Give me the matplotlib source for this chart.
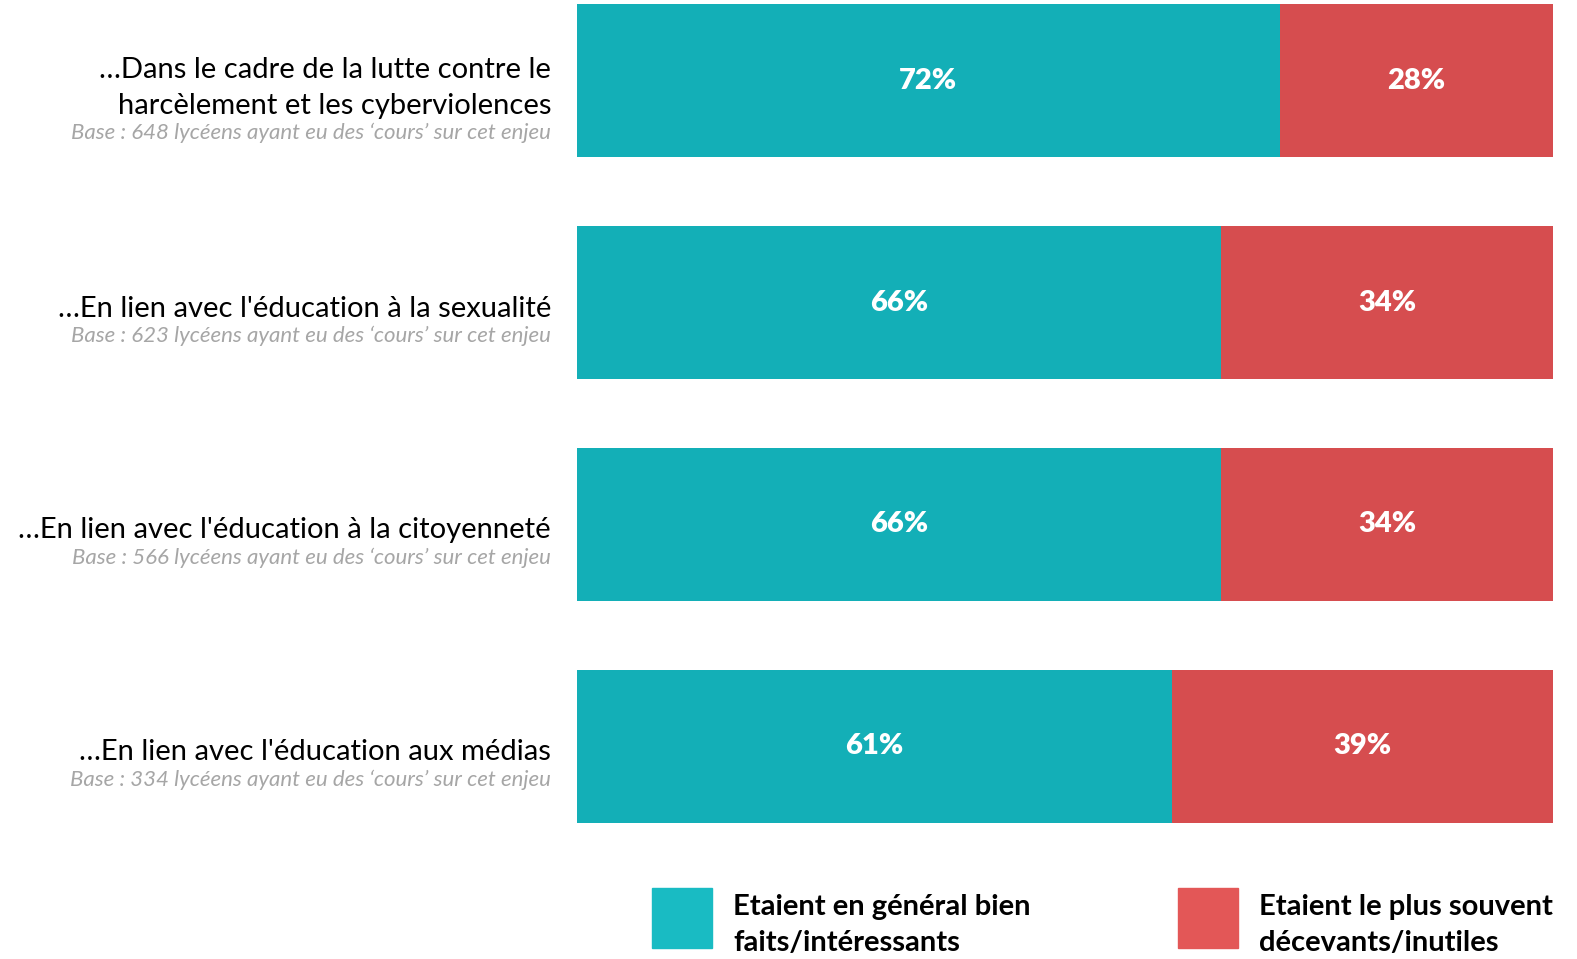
import matplotlib.pyplot as plt
from matplotlib.patches import Rectangle
from matplotlib.transforms import blended_transform_factory, offset_copy

plt.rcParams['font.family'] = ['Lato', 'DejaVu Sans']

# data
labels = [
    "…Dans le cadre de la lutte contre le\nharcèlement et les cyberviolences",
    "…En lien avec l'éducation à la sexualité",
    "…En lien avec l'éducation à la citoyenneté",
    "…En lien avec l'éducation aux médias",
]
bases = [648, 623, 566, 334]
good = [72, 66, 66, 61]
bad = [28, 34, 34, 39]
series_names = ["Etaient en général bien\nfaits/intéressants",
                "Etaient le plus souvent\ndécevants/inutiles"]

teal = "#13AFB7"
red = "#D64D4F"
teal_leg = "#19BBC3"
red_leg = "#E35757"

W, H = 1577, 959
fig = plt.figure(figsize=(W / 100, H / 100), dpi=100)
ax = fig.add_axes([577 / W, 1 - 823 / H, 976 / W, 819 / H])

y = list(range(len(labels)))
ax.barh(y, good, height=0.69, color=teal, edgecolor="none")
ax.barh(y, bad, left=good, height=0.69, color=red, edgecolor="none")
ax.set_xlim(0, 100)
ax.set_ylim(3.345, -0.345)
ax.axis("off")

for i in y:
    ax.text(good[i] / 2, i, f"{good[i]}%", ha="center", va="center",
            color="white", fontsize=21, fontweight="heavy")
    ax.text(good[i] + bad[i] / 2, i, f"{bad[i]}%", ha="center", va="center",
            color="white", fontsize=21, fontweight="heavy")

# left labels
tr = blended_transform_factory(fig.transFigure, ax.transData)
for i in y:
    nlines = labels[i].count("\n") + 1
    off = 33 + 19 * (nlines - 1)
    t_base = offset_copy(tr, fig=fig, x=0, y=-off * 0.72, units="points")
    ax.text(551 / W, i, f"Base : {bases[i]} lycéens ayant eu des ‘cours’ sur cet enjeu",
            transform=t_base, ha="right", va="center", fontsize=16,
            style="italic", color="#A6A6A6")
    t_main = offset_copy(tr, fig=fig, x=0, y=-(off - 14) * 0.72, units="points")
    ax.text(551 / W, i, labels[i], transform=t_main, ha="right", va="bottom",
            fontsize=21, color="black", linespacing=1.45)

# legend
for x0, col, name in [(652, teal_leg, series_names[0]), (1178, red_leg, series_names[1])]:
    fig.patches.append(Rectangle((x0 / W, 1 - 948 / H), 60 / W, 60 / H,
                                 transform=fig.transFigure, color=col))
    fig.text((x0 + 81) / W, 1 - 925 / H, name, ha="left", va="center",
             fontsize=21, fontweight="bold", linespacing=1.45)

fig.savefig("out.png", dpi=100)
